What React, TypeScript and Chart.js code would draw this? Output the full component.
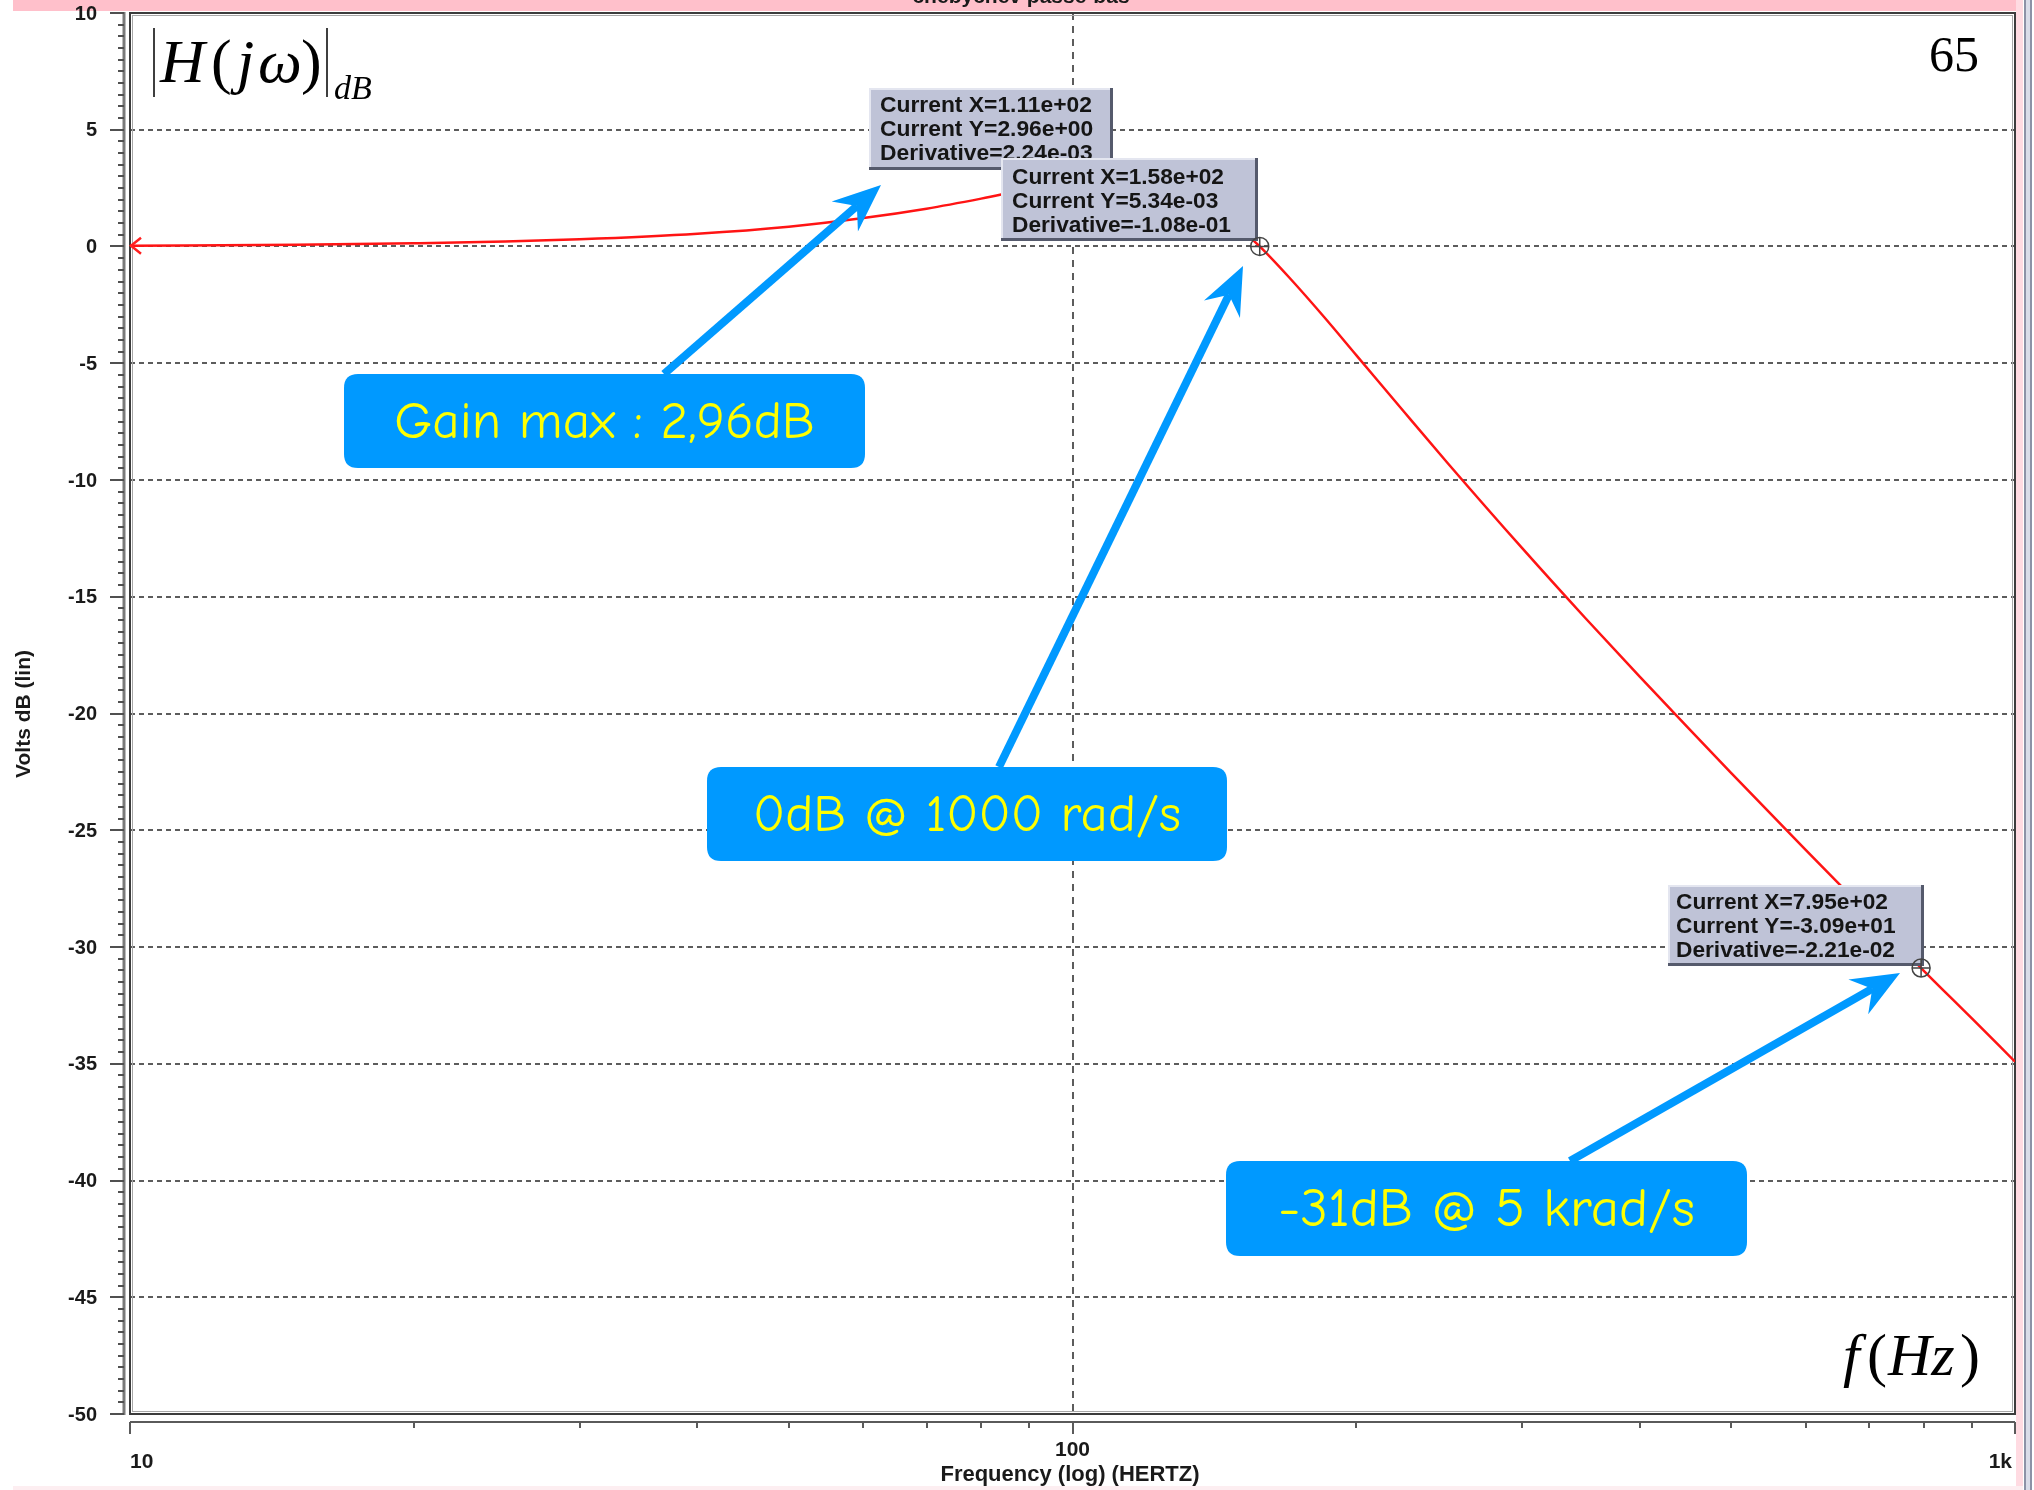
import React, { useEffect, useRef } from "react";
import { Chart, registerables } from "chart.js";

Chart.register(...registerables);

// ---------- data ----------
const frequencyHz = [10, 15, 20, 25, 30, 40, 50, 60, 70, 80, 90, 100, 111, 120, 130, 140, 150, 158, 170, 185, 200, 225, 250, 300, 350, 400, 450, 500, 600, 700, 795, 900, 1000];
const gainDb = [0.03, 0.08, 0.14, 0.21, 0.31, 0.55, 0.85, 1.22, 1.62, 2.05, 2.47, 2.79, 2.96, 2.86, 2.45, 1.76, 0.83, 0.005, -1.35, -3.03, -4.65, -7.1, -9.27, -12.92, -15.91, -18.43, -20.62, -22.55, -25.85, -28.6, -30.9, -33.06, -34.91];

const yTickValues = [10, 5, 0, -5, -10, -15, -20, -25, -30, -35, -40, -45, -50];
const yTickLabels = ["10", "5", "0", "-5", "-10", "-15", "-20", "-25", "-30", "-35", "-40", "-45", "-50"];
const xMajorTicks = [10, 100, 1000];
const xMajorLabels = ["10", "100", "1k"];
const xMinorTicks = [20, 30, 40, 50, 60, 70, 80, 90, 200, 300, 400, 500, 600, 700, 800, 900];
const xGridValues = [100];

const cursorFreq = [111, 158, 795];
const cursorGain = [2.96, 0.00534, -30.9];
const cursorTexts = [
  ["Current X=1.11e+02", "Current Y=2.96e+00", "Derivative=2.24e-03"],
  ["Current X=1.58e+02", "Current Y=5.34e-03", "Derivative=-1.08e-01"],
  ["Current X=7.95e+02", "Current Y=-3.09e+01", "Derivative=-2.21e-02"],
];

const calloutTexts = ["Gain max : 2,96dB", "0dB @ 1000 rad/s", "-31dB @ 5 krad/s"];

const titleText = "chebychev passe-bas";
const xAxisTitle = "Frequency (log) (HERTZ)";
const yAxisTitle = "Volts dB (lin)";
const pageNumber = "65";

// ---------- layout ----------
const W = 2034;
const H = 1490;
const AREA = { left: 130, top: 13, right: 2015, bottom: 1414 };

const tipBoxes = [
  { x: 869, y: 88, w: 244, h: 82, tx: 880, ty: 106 },
  { x: 1001, y: 158, w: 257, h: 83, tx: 1012, ty: 178 },
  { x: 1668, y: 885, w: 256, h: 81, tx: 1676, ty: 903 },
];

const calloutBoxes = [
  { x: 344, y: 374, w: 521, h: 94, tw: 421 },
  { x: 707, y: 767, w: 520, h: 94, tw: 428 },
  { x: 1226, y: 1161, w: 521, h: 95, tw: 417 },
];

const arrows = [
  { x1: 664, y1: 374, x2: 881, y2: 185 },
  { x1: 999, y1: 767, x2: 1243, y2: 266 },
  { x1: 1570, y1: 1161, x2: 1900, y2: 973 },
];

const SANS = '"Liberation Sans", Arial, sans-serif';
const SERIF = '"Liberation Serif", "Times New Roman", serif';
const COMIC = '"Comic Sans MS", "Comic Neue", "Open Sans", sans-serif';

function roundRect(ctx: CanvasRenderingContext2D, x: number, y: number, w: number, h: number, r: number) {
  ctx.beginPath();
  ctx.moveTo(x + r, y);
  ctx.lineTo(x + w - r, y);
  ctx.quadraticCurveTo(x + w, y, x + w, y + r);
  ctx.lineTo(x + w, y + h - r);
  ctx.quadraticCurveTo(x + w, y + h, x + w - r, y + h);
  ctx.lineTo(x + r, y + h);
  ctx.quadraticCurveTo(x, y + h, x, y + h - r);
  ctx.lineTo(x, y + r);
  ctx.quadraticCurveTo(x, y, x + r, y);
  ctx.closePath();
}

function drawArrow(ctx: CanvasRenderingContext2D, x1: number, y1: number, x2: number, y2: number) {
  const ang = Math.atan2(y2 - y1, x2 - x1);
  const headLen = 48;
  const headW = 20;
  const notch = 32;
  const c = Math.cos(ang);
  const s = Math.sin(ang);
  const nx = x2 - c * notch;
  const ny = y2 - s * notch;
  ctx.strokeStyle = "#0099ff";
  ctx.fillStyle = "#0099ff";
  ctx.lineWidth = 8;
  ctx.lineCap = "butt";
  ctx.beginPath();
  ctx.moveTo(x1, y1);
  ctx.lineTo(nx, ny);
  ctx.stroke();
  const bx = x2 - c * headLen;
  const by = y2 - s * headLen;
  const px = -s;
  const py = c;
  ctx.beginPath();
  ctx.moveTo(x2, y2);
  ctx.lineTo(bx + px * headW, by + py * headW);
  ctx.lineTo(nx, ny);
  ctx.lineTo(bx - px * headW, by - py * headW);
  ctx.closePath();
  ctx.fill();
}

export default function App() {
  const ref = useRef<HTMLCanvasElement>(null);

  useEffect(() => {
    const canvas = ref.current;
    if (!canvas) return;

    const decor = {
      id: "decor",
      beforeDraw(chart: any) {
        const ctx: CanvasRenderingContext2D = chart.ctx;
        ctx.save();
        ctx.fillStyle = "#ffffff";
        ctx.fillRect(0, 0, W, H);
        // pink top band and cut-off title
        ctx.fillStyle = "#ffc0cb";
        ctx.fillRect(13, 0, 2010, 11);
        ctx.fillStyle = "#1a1a1a";
        ctx.font = `bold 21px ${SANS}`;
        ctx.textAlign = "center";
        ctx.textBaseline = "alphabetic";
        ctx.fillText(titleText, 1021, 3);
        // right-hand window edge
        ctx.fillStyle = "#ffdbe2";
        ctx.fillRect(2016, 0, 7, H);
        ctx.fillStyle = "#8c92a6";
        ctx.fillRect(2024, 0, 2, H);
        ctx.fillStyle = "#d9dce8";
        ctx.fillRect(2026, 0, 4, H);
        ctx.fillStyle = "#8c92a6";
        ctx.fillRect(2030, 0, 2, H);
        // bottom pink band
        ctx.fillStyle = "#fdeef1";
        ctx.fillRect(13, 1486, 2010, 4);
        ctx.restore();
      },
      beforeDatasetsDraw(chart: any) {
        const ctx: CanvasRenderingContext2D = chart.ctx;
        const { left, right, top, bottom } = chart.chartArea;
        const xs = chart.scales.x;
        const ys = chart.scales.y;
        ctx.save();
        // horizontal dashed grid
        ctx.strokeStyle = "#5c5c5c";
        ctx.lineWidth = 2;
        ctx.setLineDash([5, 4]);
        yTickValues.forEach((v) => {
          if (v === 10 || v === -50) return;
          const y = Math.round(ys.getPixelForValue(v));
          ctx.beginPath();
          ctx.moveTo(left, y);
          ctx.lineTo(right, y);
          ctx.stroke();
        });
        // vertical dashed grid
        ctx.setLineDash([7, 6]);
        xGridValues.forEach((v) => {
          const x = Math.round(xs.getPixelForValue(v));
          ctx.beginPath();
          ctx.moveTo(x, top);
          ctx.lineTo(x, bottom);
          ctx.stroke();
        });
        ctx.setLineDash([]);

        // plot frame
        ctx.strokeStyle = "#a8a8a8";
        ctx.lineWidth = 1;
        ctx.strokeRect(left + 2.5, top + 2.5, right - left - 5, bottom - top - 5);
        ctx.strokeStyle = "#3c3c3c";
        ctx.lineWidth = 2;
        ctx.strokeRect(left, top, right - left, bottom - top);

        // y axis line + ticks
        const yAxisX = left - 6;
        ctx.strokeStyle = "#7a7a7a";
        ctx.lineWidth = 3;
        ctx.beginPath();
        ctx.moveTo(yAxisX, top - 1);
        ctx.lineTo(yAxisX, bottom + 1);
        ctx.stroke();
        ctx.strokeStyle = "#505050";
        ctx.lineWidth = 2;
        for (let k = 0; k <= 120; k++) {
          const v = -50 + k * 0.5;
          const y = Math.round(ys.getPixelForValue(v));
          const major = k % 10 === 0;
          ctx.beginPath();
          ctx.moveTo(yAxisX - (major ? 14 : 6), y);
          ctx.lineTo(yAxisX, y);
          ctx.stroke();
        }
        // y tick labels
        ctx.fillStyle = "#1a1a1a";
        ctx.font = `bold 20px ${SANS}`;
        ctx.textAlign = "right";
        ctx.textBaseline = "middle";
        yTickValues.forEach((v, i) => {
          ctx.fillText(yTickLabels[i], 97, ys.getPixelForValue(v) + 1);
        });
        // y title
        ctx.save();
        ctx.translate(24, 714);
        ctx.rotate(-Math.PI / 2);
        ctx.textAlign = "center";
        ctx.textBaseline = "middle";
        ctx.font = `bold 21px ${SANS}`;
        ctx.fillText(yAxisTitle, 0, 0);
        ctx.restore();

        // x axis line + ticks
        const xAxisY = bottom + 8;
        ctx.strokeStyle = "#5a5a5a";
        ctx.lineWidth = 2;
        ctx.beginPath();
        ctx.moveTo(left, xAxisY);
        ctx.lineTo(right, xAxisY);
        ctx.stroke();
        xMajorTicks.forEach((v) => {
          const x = Math.round(xs.getPixelForValue(v));
          ctx.beginPath();
          ctx.moveTo(x, xAxisY);
          ctx.lineTo(x, xAxisY + 12);
          ctx.stroke();
        });
        xMinorTicks.forEach((v) => {
          const x = Math.round(xs.getPixelForValue(v));
          ctx.beginPath();
          ctx.moveTo(x, xAxisY);
          ctx.lineTo(x, xAxisY + 6);
          ctx.stroke();
        });
        // x tick labels
        ctx.fillStyle = "#1a1a1a";
        ctx.font = `bold 21px ${SANS}`;
        ctx.textBaseline = "middle";
        xMajorTicks.forEach((v, i) => {
          const x = xs.getPixelForValue(v);
          if (i === 0) {
            ctx.textAlign = "left";
            ctx.fillText(xMajorLabels[i], x, 1462);
          } else if (i === xMajorTicks.length - 1) {
            ctx.textAlign = "right";
            ctx.fillText(xMajorLabels[i], x - 3, 1462);
          } else {
            ctx.textAlign = "center";
            ctx.fillText(xMajorLabels[i], x, 1450);
          }
        });
        ctx.textAlign = "center";
        ctx.font = `bold 22px ${SANS}`;
        ctx.fillText(xAxisTitle, 1070, 1475);
        ctx.restore();
      },
      afterDatasetsDraw(chart: any) {
        const ctx: CanvasRenderingContext2D = chart.ctx;
        const xs = chart.scales.x;
        const ys = chart.scales.y;
        ctx.save();

        // start marker on the curve (left pointing)
        const mx = xs.getPixelForValue(frequencyHz[0]);
        const my = ys.getPixelForValue(gainDb[0]);
        ctx.strokeStyle = "#ff2020";
        ctx.lineWidth = 2.5;
        ctx.beginPath();
        ctx.moveTo(mx + 11, my - 8);
        ctx.lineTo(mx + 1, my);
        ctx.lineTo(mx + 11, my + 8);
        ctx.stroke();

        // cursor boxes and markers
        cursorTexts.forEach((lines, i) => {
          const b = tipBoxes[i];
          ctx.fillStyle = "#bfc3d7";
          ctx.fillRect(b.x, b.y, b.w, b.h);
          ctx.fillStyle = "#e4e6f0";
          ctx.fillRect(b.x, b.y, b.w, 2);
          ctx.fillRect(b.x, b.y, 2, b.h);
          ctx.fillStyle = "#555a6c";
          ctx.fillRect(b.x, b.y + b.h - 3, b.w, 3);
          ctx.fillRect(b.x + b.w - 3, b.y, 3, b.h);
          ctx.fillStyle = "#151515";
          ctx.font = `bold 22px ${SANS}`;
          ctx.textAlign = "left";
          ctx.textBaseline = "middle";
          const sx = 212 / ctx.measureText(lines[0]).width;
          lines.forEach((t, j) => {
            ctx.save();
            ctx.translate(b.tx, b.ty + j * 24);
            ctx.scale(sx, 1);
            ctx.fillText(t, 0, 0);
            ctx.restore();
          });
          // marker
          const cx = xs.getPixelForValue(cursorFreq[i]);
          const cy = ys.getPixelForValue(cursorGain[i]);
          ctx.strokeStyle = "#444";
          ctx.lineWidth = 1.5;
          ctx.beginPath();
          ctx.arc(cx, cy, 9, 0, Math.PI * 2);
          ctx.stroke();
          ctx.beginPath();
          ctx.moveTo(cx - 9, cy);
          ctx.lineTo(cx + 9, cy);
          ctx.moveTo(cx, cy - 9);
          ctx.lineTo(cx, cy + 9);
          ctx.stroke();
        });

        // callouts
        calloutTexts.forEach((t, i) => {
          const b = calloutBoxes[i];
          ctx.fillStyle = "#0099ff";
          roundRect(ctx, b.x, b.y, b.w, b.h, 14);
          ctx.fill();
          ctx.font = `48px ${COMIC}`;
          const size = (48 * b.tw) / ctx.measureText(t).width;
          ctx.font = `${size.toFixed(1)}px ${COMIC}`;
          ctx.fillStyle = "#ffff00";
          ctx.textAlign = "center";
          ctx.textBaseline = "middle";
          ctx.fillText(t, b.x + b.w / 2, b.y + b.h / 2 + 2);
        });
        arrows.forEach((a) => drawArrow(ctx, a.x1, a.y1, a.x2, a.y2));

        // |H(jw)|dB label
        ctx.fillStyle = "#000";
        ctx.strokeStyle = "#000";
        ctx.lineWidth = 1.5;
        ctx.beginPath();
        ctx.moveTo(154, 28);
        ctx.lineTo(154, 97);
        ctx.moveTo(327, 28);
        ctx.lineTo(327, 97);
        ctx.stroke();
        ctx.textAlign = "left";
        ctx.textBaseline = "alphabetic";
        ctx.font = `italic 62px ${SERIF}`;
        ctx.fillText("H", 160, 82);
        ctx.font = `62px ${SERIF}`;
        ctx.fillText("(", 211, 82);
        ctx.font = `italic 62px ${SERIF}`;
        ctx.fillText("j", 237, 82);
        ctx.fillText("ω", 258, 82);
        ctx.font = `62px ${SERIF}`;
        ctx.fillText(")", 301, 82);
        ctx.font = `italic 34px ${SERIF}`;
        ctx.fillText("dB", 334, 99);

        // page number
        ctx.font = `50px ${SERIF}`;
        ctx.fillText(pageNumber, 1929, 71);

        // f(Hz)
        ctx.font = `italic 60px ${SERIF}`;
        ctx.fillText("f", 1843, 1375);
        ctx.font = `60px ${SERIF}`;
        ctx.fillText("(", 1867, 1375);
        ctx.font = `italic 60px ${SERIF}`;
        ctx.fillText("Hz", 1888, 1375);
        ctx.font = `60px ${SERIF}`;
        ctx.fillText(")", 1960, 1375);

        ctx.restore();
      },
    };

    const chart = new Chart(canvas, {
      type: "line",
      data: {
        datasets: [
          {
            label: "V(dB)",
            data: frequencyHz.map((f, i) => ({ x: f, y: gainDb[i] })),
            borderColor: "#ff1414",
            borderWidth: 2.5,
            pointRadius: 0,
            fill: false,
            cubicInterpolationMode: "monotone",
          },
        ],
      },
      options: {
        animation: false,
        responsive: false,
        devicePixelRatio: 1,
        events: [],
        layout: {
          padding: { left: AREA.left, top: AREA.top, right: W - AREA.right, bottom: H - AREA.bottom },
        },
        plugins: {
          legend: { display: false },
          tooltip: { enabled: false },
          title: { display: false },
        },
        scales: {
          x: { type: "logarithmic", min: 10, max: 1000, display: false },
          y: { type: "linear", min: -50, max: 10, display: false },
        },
      } as any,
      plugins: [decor as any],
    });

    return () => chart.destroy();
  }, []);

  return (
    <div style={{ position: "fixed", left: 0, top: 0, width: W, height: H, background: "#fff" }}>
      <canvas ref={ref} width={W} height={H} style={{ width: W, height: H, display: "block" }} />
    </div>
  );
}
